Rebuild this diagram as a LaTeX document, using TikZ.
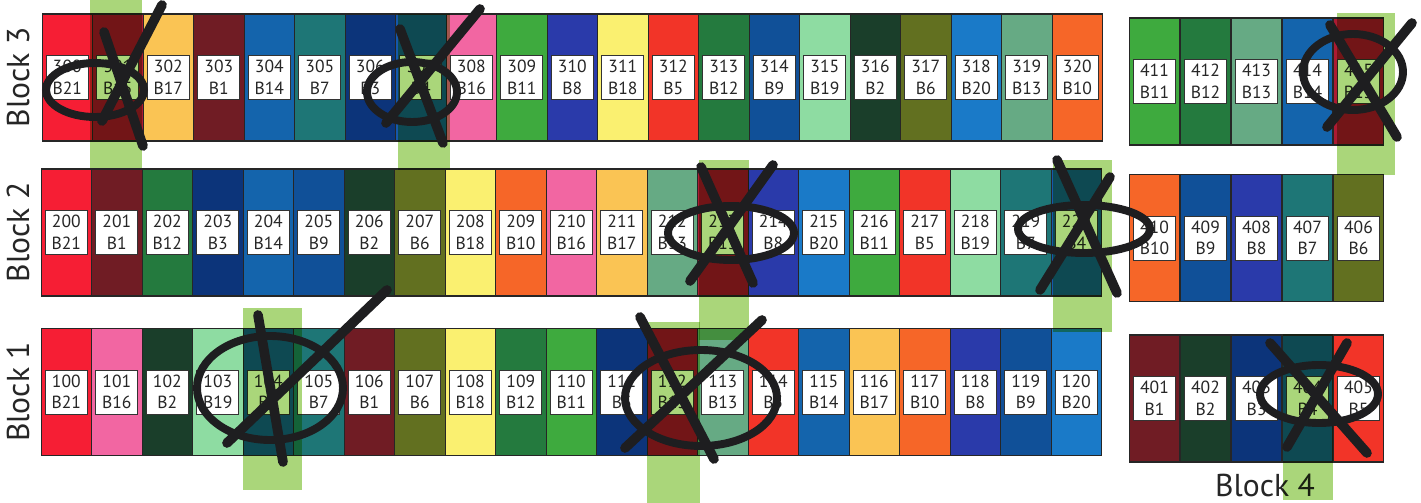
\documentclass[tikz,border=0pt]{standalone}
\usepackage{fontspec}
\setmainfont{PT Sans}
\usetikzlibrary{positioning}
% treatment colours
\definecolor{trtB1}{RGB}{112,28,36}
\definecolor{trtB2}{RGB}{26,62,42}
\definecolor{trtB3}{RGB}{12,52,122}
\definecolor{trtB4}{RGB}{22,88,172}
\definecolor{trtB5}{RGB}{242,52,40}
\definecolor{trtB6}{RGB}{98,112,32}
\definecolor{trtB7}{RGB}{30,118,118}
\definecolor{trtB8}{RGB}{42,58,170}
\definecolor{trtB9}{RGB}{16,80,152}
\definecolor{trtB10}{RGB}{246,102,40}
\definecolor{trtB11}{RGB}{62,170,62}
\definecolor{trtB12}{RGB}{36,122,62}
\definecolor{trtB13}{RGB}{102,170,132}
\definecolor{trtB14}{RGB}{20,100,172}
\definecolor{trtB15}{RGB}{172,26,50}
\definecolor{trtB16}{RGB}{242,102,162}
\definecolor{trtB17}{RGB}{250,196,84}
\definecolor{trtB18}{RGB}{250,240,112}
\definecolor{trtB19}{RGB}{142,220,162}
\definecolor{trtB20}{RGB}{26,122,200}
\definecolor{trtB21}{RGB}{246,30,52}
\definecolor{hilite}{RGB}{170,214,122}
\definecolor{ink}{RGB}{30,30,32}

\begin{document}
\begin{tikzpicture}[x=0.02cm, y=-0.02cm,
  plotcell/.style={draw=black!85, line width=0.6pt, minimum width=1.01cm, minimum height=2.54cm, inner sep=0pt, outer sep=0pt},
  plottag/.style={draw=black!80, line width=0.5pt, fill=white, minimum width=0.84cm, minimum height=0.88cm, inner sep=0pt, align=center, text=black!85, font=\fontsize{10}{12.3}\selectfont},
  blocklabel/.style={text=black!85, font=\fontsize{18}{20}\selectfont},
  marker/.style={fill=hilite, draw=none},
  pen/.style={draw=ink, line width=5.5pt, line cap=round, line join=round},
  loop/.style={draw=ink, line width=4.5pt}]
  \useasboundingbox (0,0) rectangle (1421,503);

  % Block 3
  \foreach \t [count=\i from 0] in {21,15,17,1,14,7,3,4,16,11,8,18,5,12,9,19,2,6,20,13,10}{
    \pgfmathtruncatemacro{\plot}{300+\i}
    \node[plotcell, fill=trtB\t] (p\plot) at ({67.3+50.5*\i},77.5) {};
    \node[plottag] (t\plot) at (p\plot) {\plot\\B\t};
  }
  % Block 2
  \foreach \t [count=\i from 0] in {21,1,12,3,14,9,2,6,18,10,16,17,13,15,8,20,11,5,19,7,4}{
    \pgfmathtruncatemacro{\plot}{200+\i}
    \node[plotcell, fill=trtB\t] (p\plot) at ({66.3+50.5*\i},232.5) {};
    \node[plottag] (t\plot) at (p\plot) {\plot\\B\t};
  }
  % Block 1
  \foreach \t [count=\i from 0] in {21,16,2,19,4,7,1,6,18,12,11,3,15,13,5,14,17,10,8,9,20}{
    \pgfmathtruncatemacro{\plot}{100+\i}
    \node[plotcell, fill=trtB\t] (p\plot) at ({66.3+50.5*\i},392) {};
    \node[plottag] (t\plot) at (p\plot) {\plot\\B\t};
  }
  % Block 4, three short rows
  \foreach \t [count=\i from 0] in {11,12,13,14,15}{
    \pgfmathtruncatemacro{\plot}{411+\i}
    \node[plotcell, fill=trtB\t] (p\plot) at ({1154.5+51*\i},81.5) {};
    \node[plottag] (t\plot) at (p\plot) {\plot\\B\t};
  }
  \foreach \t [count=\i from 0] in {10,9,8,7,6}{
    \pgfmathtruncatemacro{\plot}{410-\i}
    \node[plotcell, fill=trtB\t] (p\plot) at ({1154.5+51*\i},238) {};
    \node[plottag] (t\plot) at (p\plot) {\plot\\B\t};
  }
  \foreach \t [count=\i from 0] in {1,2,3,4,5}{
    \pgfmathtruncatemacro{\plot}{400+\t}
    \node[plotcell, fill=trtB\t] (p\plot) at ({1154.5+51*\i},398.5) {};
    \node[plottag] (t\plot) at (p\plot) {\plot\\B\t};
  }

  \node[blocklabel, rotate=90] (b3) at (18,77.5) {Block 3};
  \node[blocklabel, rotate=90] (b2) at (18,232.5) {Block 2};
  \node[blocklabel, rotate=90] (b1) at (18,392) {Block 1};
  \node[blocklabel, below right=0.12cm and -0.95cm of p403.south] (b4) {Block 4};

  % highlighter
  \begin{scope}[blend mode=multiply]
    \fill[marker] (90,0) rectangle (142,168);
    \fill[marker] (398,14) rectangle (450,170);
    \fill[marker] (699,160) rectangle (749,340);
    \fill[marker] (1053,160) rectangle (1112,332);
    \fill[marker] (243,308) rectangle (302,490);
    \fill[marker] (647,322) rectangle (700,503);
    \fill[marker] (1337,13) rectangle (1395,175);
    \fill[marker] (1283,334) rectangle (1333,500);
  \end{scope}

  % crossed-out plots
  \draw[pen] (104,32) -- (143,146) (162,5) -- (102,121);
  \draw[loop] (95,90) ellipse [x radius=49, y radius=27];
  \draw[pen] (400,29) -- (443,143) (480,9) -- (386,123);
  \draw[loop] (412,92) ellipse [x radius=45, y radius=30];
  \draw[pen] (701,167) -- (753,283) (773,165) -- (690,281);
  \draw[loop] (731,233) ellipse [x radius=63, y radius=27];
  \draw[pen] (1057,160) -- (1117,293) (1110,177) -- (1040,290);
  \draw[loop] (1084,229) ellipse [x radius=66, y radius=24];
  \draw[pen] (258,315) -- (283,462) (387,290) -- (227,443);
  \draw[loop] (270,388) ellipse [x radius=73, y radius=52];
  \draw[pen] (640,317) -- (714,459) (762,320) -- (625,448);
  \draw[loop] (701,398) ellipse [x radius=76, y radius=48];
  \draw[pen] (1330,25) -- (1397,137) (1412,23) -- (1327,127);
  \draw[loop] (1353,72) ellipse [x radius=50, y radius=38];
  \draw[pen] (1270,343) -- (1367,453) (1347,343) -- (1287,447);
  \draw[loop] (1319,394) ellipse [x radius=59, y radius=29];
\end{tikzpicture}
\end{document}
